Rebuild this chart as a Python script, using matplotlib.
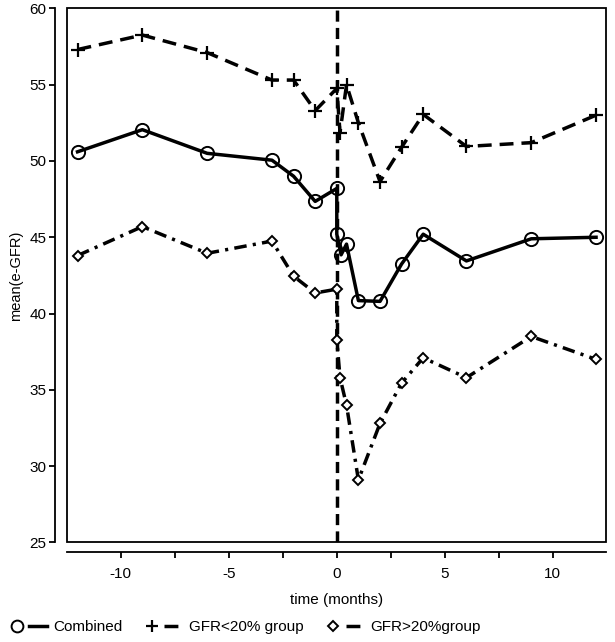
import matplotlib
matplotlib.use('Agg')
from matplotlib import pyplot as plt
from matplotlib.lines import Line2D
from matplotlib.legend_handler import HandlerTuple

# time (months) and mean e-GFR per group
combined_t = [-12, -9, -6, -3, -2, -1, 0, 0, 0.2, 0.45, 1, 2, 3, 4, 6, 9, 12]
combined_y = [50.6, 52.05, 50.5, 50.05, 49.0, 47.35, 48.2, 45.2, 43.85, 44.55,
              40.85, 40.8, 43.25, 45.2, 43.45, 44.9, 45.0]

low_t = [-12, -9, -6, -3, -2, -1, 0, 0.15, 0.45, 1, 2, 3, 4, 6, 9, 12]
low_y = [57.3, 58.25, 57.1, 55.3, 55.3, 53.3, 54.75, 51.85, 55.0, 52.5,
         48.65, 50.9, 53.05, 50.95, 51.2, 53.0]

high_t = [-12, -9, -6, -3, -2, -1, 0, 0, 0.15, 0.45, 1, 2, 3, 4, 6, 9, 12]
high_y = [43.8, 45.7, 43.95, 44.75, 42.45, 41.35, 41.6, 38.3, 35.8, 34.0,
          29.1, 32.8, 35.45, 37.1, 35.8, 38.5, 37.0]

labels = ['Combined', 'GFR<20% group', 'GFR>20%group']
x_ticks = [-10, -5, 0, 5, 10]
x_minor = [-7.5, -2.5, 2.5, 7.5]
y_ticks = [25, 30, 35, 40, 45, 50, 55, 60]

plt.rcParams['font.family'] = ['Liberation Sans', 'DejaVu Sans']
plt.rcParams['font.size'] = 11
plt.rcParams['axes.unicode_minus'] = False

fig = plt.figure(figsize=(6.15, 6.42), dpi=100)
ax = fig.add_axes([0.1085, 0.155, 0.8765, 0.832])

lw = 2.5
ax.axvline(0, color='black', lw=lw, ls=(0, (3.2, 1.8)), zorder=1)
ax.plot(combined_t, combined_y, color='black', lw=lw, ls='-',
        marker='o', ms=9.5, mfc='none', mec='black', mew=1.4, zorder=3)
ax.plot(low_t, low_y, color='black', lw=lw, ls=(0, (4, 2.3)),
        marker='+', ms=10, mew=1.6, zorder=3)
ax.plot(high_t, high_y, color='black', lw=lw, ls=(0, (3.6, 1.8, 0.9, 1.8)),
        marker='D', ms=5.5, mfc='white', mec='black', mew=1.4, zorder=3)

ax.set_xlim(-12.5, 12.45)
ax.set_ylim(25, 60)

# frame around the plot region, axes drawn outside it
frame = plt.Rectangle((0, 0), 1, 1, transform=ax.transAxes, fill=False,
                      lw=1.3, ec='black', clip_on=False, zorder=5)
ax.add_patch(frame)
ax.spines['top'].set_visible(False)
ax.spines['right'].set_visible(False)
ax.spines['left'].set_position(('outward', 8.5))
ax.spines['bottom'].set_position(('outward', 7))
ax.spines['left'].set_bounds(25, 60)
ax.spines['left'].set_linewidth(1.3)
ax.spines['bottom'].set_linewidth(1.3)

ax.set_xticks(x_ticks)
ax.set_xticks(x_minor, minor=True)
ax.set_yticks(y_ticks)
ax.tick_params(axis='both', which='both', direction='out', length=4, width=1.3,
               labelsize=11)
ax.tick_params(axis='x', pad=7)
ax.tick_params(axis='y', pad=2)

ax.set_xlabel('time (months)', fontsize=11, labelpad=8)
ax.set_ylabel('mean(e-GFR)', fontsize=10.5, labelpad=5)

h_comb = (Line2D([], [], ls='none', marker='o', ms=8.5, mfc='none', mec='black', mew=1.4),
          Line2D([], [], color='black', lw=lw))
h_low = (Line2D([], [], ls='none', marker='+', ms=9, mec='black', mew=1.6),
         Line2D([], [], color='black', lw=lw, ls=(0, (4, 2, 0.8, 2))))
h_high = (Line2D([], [], ls='none', marker='D', ms=5.5, mfc='white', mec='black', mew=1.4),
          Line2D([], [], color='black', lw=lw, ls=(0, (4, 2, 0.8, 2))))

fig.legend([h_comb, h_low, h_high], labels, loc='center left',
           bbox_to_anchor=(0.012, 1 - 627 / 642), ncol=3, frameon=False,
           handler_map={tuple: HandlerTuple(ndivide=None, pad=0.2)},
           handlelength=2.6, handletextpad=0.4, columnspacing=1.35,
           borderaxespad=0, borderpad=0, fontsize=11)

fig.savefig('out.png', dpi=100)
